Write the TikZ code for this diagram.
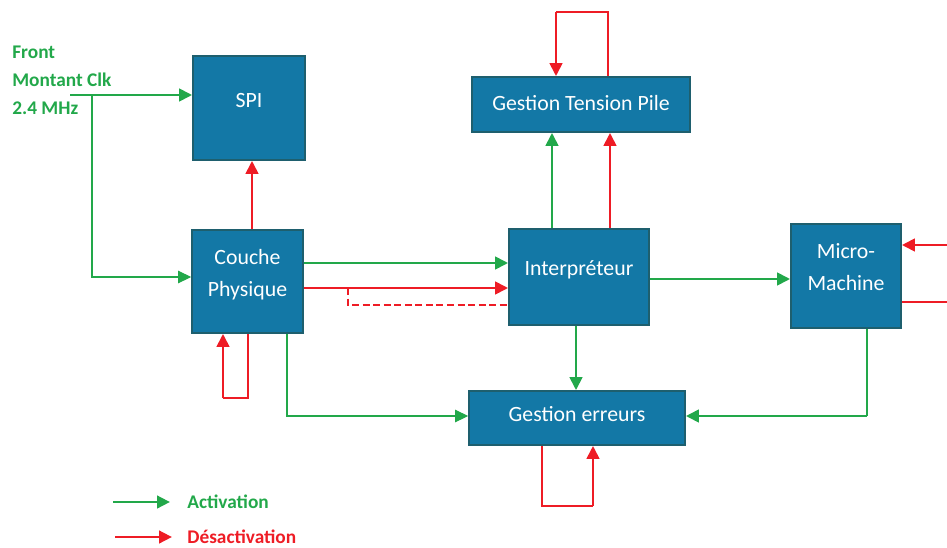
\documentclass[tikz,border=0pt]{standalone}
\usepackage{fontspec}
\setmainfont{Carlito}
\usetikzlibrary{arrows.meta}
\definecolor{boxblue}{HTML}{1378A6}
\definecolor{boxedge}{HTML}{1E5F6E}
\definecolor{actgreen}{HTML}{22A84A}
\definecolor{desred}{HTML}{EE1C25}

\begin{document}
\begin{tikzpicture}
        \tikzstyle{block} = [rectangle, draw=boxedge, line width=1pt, fill=boxblue, text=white, align=center, inner sep=0pt, font=\fontsize{12.4}{18.2}\selectfont]
        \tikzstyle{green arrow} = [actgreen, line width=1.6pt, -{Triangle[length=2.6mm,width=2.5mm]}]
        \tikzstyle{green line} = [actgreen, line width=0.6pt]
        \tikzstyle{red arrow} = [desred, line width=1.6pt, -{Triangle[length=2.6mm,width=2.5mm]}]
        \tikzstyle{red line} = [desred, line width=0.6pt]
        \tikzstyle{legend} = [anchor=west, inner sep=0pt, font=\fontsize{11}{15.9}\selectfont\bfseries]

                \useasboundingbox (0,0) rectangle (18.94,-10.94);

                \node (spi) [block, minimum width=2.24cm, minimum height=2.08cm, text depth=0.32cm] at (4.98,-2.16) {SPI};
                \node (couche) [block, minimum width=2.22cm, minimum height=2.06cm, text height=0.92cm, text depth=0.34cm] at (4.95,-5.63) {Couche\\Physique};
                \node (gtp) [block, minimum width=4.36cm, minimum height=1.10cm, text height=0.28cm, text depth=0.06cm] at (11.62,-2.09) {Gestion Tension Pile};
                \node (interp) [block, minimum width=2.80cm, minimum height=1.92cm, text height=0.28cm, text depth=0.36cm] at (11.58,-5.54) {Interpréteur};
                \node (mm) [block, minimum width=2.20cm, minimum height=2.08cm, text height=0.92cm, text depth=0.34cm] at (16.92,-5.52) {Micro-\\Machine};
                \node (ge) [block, minimum width=4.32cm, minimum height=1.08cm, text height=0.28cm, text depth=0.16cm] at (11.54,-8.36) {Gestion erreurs};

                \node (clktxt) [legend, text=actgreen, align=left] at (0.24,-1.6) {Front\\Montant Clk\\2.4 MHz};
                \node (act) [legend, text=actgreen] at (3.74,-10.04) {Activation};
                \node (desact) [legend, text=desred] at (3.74,-10.74) {Désactivation};

                % horloge
                \coordinate (clk) at (1.4,-1.9);
                \coordinate (clkv) at (1.84,-1.9);
                \draw[green arrow] (clk) -- (clk -| spi.west);
                \draw[green line, -{Triangle[length=2.6mm,width=2.5mm]}] (clkv) |- ([yshift=0.09cm]couche.west);

                \draw[red arrow] ([xshift=0.09cm]couche.north) coordinate (r1) -- (r1 |- spi.south);
                \coordinate (cpl) at (4.46,-7.96);
                \draw[red line] ([xshift=0.01cm]couche.south) |- (cpl);
                \draw[red arrow] (cpl) -- (cpl |- couche.south);

                \draw[green arrow] ([yshift=0.37cm]couche.east) coordinate (g2) -- (g2 -| interp.west);
                \draw[red arrow] ([yshift=-0.13cm]couche.east) coordinate (r2) -- (r2 -| interp.west);
                \coordinate (dsh) at (6.96,-5.76);
                \draw[red line, dash pattern=on 4pt off 2pt] (dsh) |- ([yshift=-0.56cm]interp.west);
                \draw[green line, -{Triangle[length=2.6mm,width=2.5mm]}] ([xshift=0.79cm]couche.south) |- ([yshift=0.04cm]ge.west);

                \draw[green arrow] ([xshift=-0.54cm]interp.north) coordinate (g3) -- (g3 |- gtp.south);
                \draw[red arrow] ([xshift=0.62cm]interp.north) coordinate (r3) -- (r3 |- gtp.south);
                \coordinate (gtl) at (11.12,-0.24);
                \draw[red line] ([xshift=0.54cm]gtp.north) |- (gtl);
                \draw[red arrow] (gtl) -- (gtl |- gtp.north);

                \draw[green arrow] ([yshift=-0.04cm]interp.east) coordinate (g4) -- (g4 -| mm.west);
                \draw[green arrow] ([xshift=-0.06cm]interp.south) coordinate (g5) -- (g5 |- ge.north);

                % micro-machine
                \coordinate (mmin) at (18.94,-4.9);
                \coordinate (mmout) at (18.94,-6.04);
                \draw[red arrow] (mmin) -- (mmin -| mm.east);
                \draw[red line] (mmout -| mm.east) -- (mmout);
                \coordinate (mmc) at (17.34,-8.32);
                \draw[green line] ([xshift=0.42cm]mm.south) -- (mmc);
                \draw[green arrow] (mmc) -- (mmc -| ge.east);

                \coordinate (gel) at (11.86,-10.12);
                \draw[red line] ([xshift=-0.70cm]ge.south) |- (gel);
                \draw[red arrow] (gel) -- (gel |- ge.south);

                % legende
                \coordinate (lg) at (2.26,-10.04);
                \coordinate (lr) at (2.30,-10.74);
                \draw[green arrow] (lg) -- ([xshift=-0.34cm]act.west);
                \draw[red arrow] (lr) -- ([xshift=-0.30cm]desact.west);
\end{tikzpicture}
\end{document}
